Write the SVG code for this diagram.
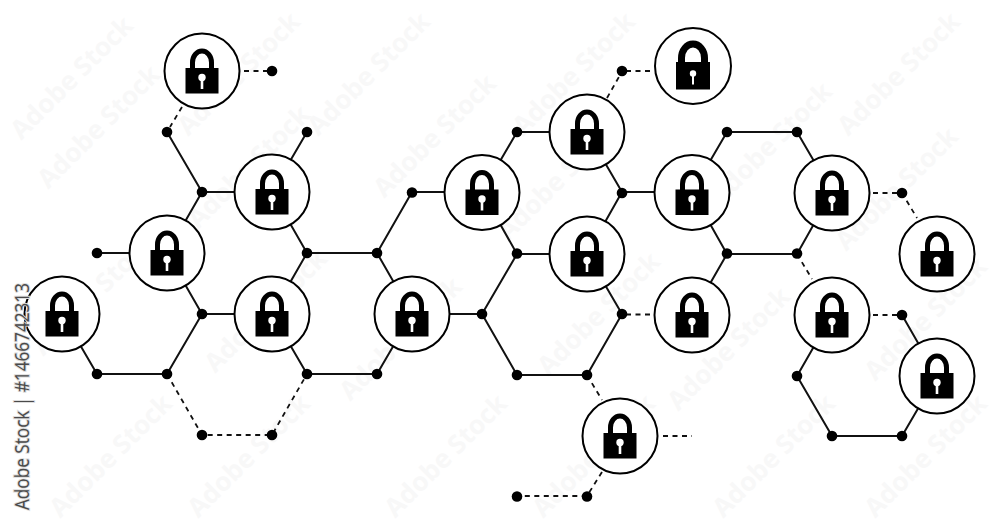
<svg xmlns="http://www.w3.org/2000/svg" xmlns:xlink="http://www.w3.org/1999/xlink" width="1000" height="526" viewBox="0 0 1000 526">
<style>
.wm{font-family:"Open Sans","Liberation Sans",sans-serif;font-size:26px;font-weight:700;fill:#f8f8f8;text-anchor:middle}
.ring{fill:#fff;stroke:#000;stroke-width:2}
.dot{fill:#000}
.solid path{fill:none;stroke:#111;stroke-width:2;stroke-linecap:round}
.dash path{fill:none;stroke:#111;stroke-width:1.8;stroke-dasharray:5 4.5}
.stock{font-family:"Open Sans","Liberation Sans",sans-serif;font-size:20px;fill:#4a4a4a;stroke:#ddd;stroke-width:2px;paint-order:stroke}
</style>
<defs>
<g id="lock">
<circle class="ring" r="37.5"/>
<path d="M-9.5 -2V-8.5A9.500 11.500 0 0 1 9.500 -8.500V-2" fill="none" stroke="#000" stroke-width="5"/>
<rect x="-16.500" y="-3" width="33" height="25.500" fill="#000"/>
<circle cx="0" cy="6.500" r="3.700" fill="#fff"/>
<rect x="-1.300" y="7" width="2.600" height="11" fill="#fff"/>
</g>
<g id="lock-big">
<circle class="ring" r="38"/>
<path d="M-11.500 -3V-8A11.500 14 0 0 1 11.500 -8V-3" fill="none" stroke="#000" stroke-width="7"/>
<rect x="-17" y="-4" width="34" height="27.500" fill="#000"/>
<circle cx="0" cy="7.500" r="3.200" fill="#fff"/>
<rect x="-1" y="8" width="2" height="10.500" fill="#fff"/>
</g>
</defs>
<rect width="1000" height="526" fill="#fff"/>
<g id="watermarks">
<text class="wm" transform="translate(78,84) rotate(-45)">Adobe Stock</text>
<text class="wm" transform="translate(105,133) rotate(-45)">Adobe Stock</text>
<text class="wm" transform="translate(255,173) rotate(-45)">Adobe Stock</text>
<text class="wm" transform="translate(375,80) rotate(-45)">Adobe Stock</text>
<text class="wm" transform="translate(441,142) rotate(-45)">Adobe Stock</text>
<text class="wm" transform="translate(565,185) rotate(-45)">Adobe Stock</text>
<text class="wm" transform="translate(580,80) rotate(-45)">Adobe Stock</text>
<text class="wm" transform="translate(777,150) rotate(-45)">Adobe Stock</text>
<text class="wm" transform="translate(903,195) rotate(-45)">Adobe Stock</text>
<text class="wm" transform="translate(905,80) rotate(-45)">Adobe Stock</text>
<text class="wm" transform="translate(245,80) rotate(-45)">Adobe Stock</text>
<text class="wm" transform="translate(100,300) rotate(-45)">Adobe Stock</text>
<text class="wm" transform="translate(272,317) rotate(-45)">Adobe Stock</text>
<text class="wm" transform="translate(407,345) rotate(-45)">Adobe Stock</text>
<text class="wm" transform="translate(605,320) rotate(-45)">Adobe Stock</text>
<text class="wm" transform="translate(735,355) rotate(-45)">Adobe Stock</text>
<text class="wm" transform="translate(932,325) rotate(-45)">Adobe Stock</text>
<text class="wm" transform="translate(117,462) rotate(-45)">Adobe Stock</text>
<text class="wm" transform="translate(255,462) rotate(-45)">Adobe Stock</text>
<text class="wm" transform="translate(452,462) rotate(-45)">Adobe Stock</text>
<text class="wm" transform="translate(600,462) rotate(-45)">Adobe Stock</text>
<text class="wm" transform="translate(780,462) rotate(-45)">Adobe Stock</text>
<text class="wm" transform="translate(932,462) rotate(-45)">Adobe Stock</text>
</g>
<g id="connectors">
<g class="solid">
<path d="M167 132L202 192L272 192"/>
<path d="M202 192L167 253"/>
<path d="M307 132L272 192L307 253L272 314"/>
<path d="M97 253H167L202 314L272 314"/>
<path d="M202 314L167 374H97L62 314"/>
<path d="M272 314L307 374H377"/>
<path d="M307 253H377L412 192H482"/>
<path d="M377 253L412 314H482"/>
<path d="M412 314L377 374"/>
<path d="M482 314L517 254L482 192L517 132H587L622 192L587 254H517"/>
<path d="M622 192H692"/>
<path d="M587 254L622 314L587 375H517L482 314"/>
<path d="M692 192L727 132H797L832 192L797 254H727L692 192"/>
<path d="M727 254L692 315"/>
<path d="M832 315L797 376L832 436H902L937 376L902 315"/>
</g>
<g class="dash">
<path d="M244 71H268"/>
<path d="M182 107L170 127"/>
<path d="M167 374L202 435H272L307 374"/>
<path d="M607 98L620 75"/>
<path d="M626 71H652"/>
<path d="M873 193H902L917 218"/>
<path d="M797 254L812 279"/>
<path d="M873 315H898"/>
<path d="M626 314.500H652"/>
<path d="M587 375L602 400"/>
<path d="M602 472L587 496H517"/>
<path d="M663 436H692"/>
</g>
</g>
<g id="lock-1"><use xlink:href="#lock" href="#lock" x="202" y="71"/></g>
<g id="lock-2"><use xlink:href="#lock" href="#lock" x="272" y="192"/></g>
<g id="lock-3"><use xlink:href="#lock" href="#lock" x="167" y="253"/></g>
<g id="lock-4"><use xlink:href="#lock" href="#lock" x="62" y="314"/></g>
<g id="lock-5"><use xlink:href="#lock" href="#lock" x="272" y="314"/></g>
<g id="lock-6"><use xlink:href="#lock" href="#lock" x="412" y="314"/></g>
<g id="lock-7"><use xlink:href="#lock" href="#lock" x="482" y="192.500"/></g>
<g id="lock-8"><use xlink:href="#lock" href="#lock" x="587" y="132"/></g>
<g id="lock-9"><use xlink:href="#lock" href="#lock" x="587" y="254"/></g>
<g id="lock-10"><use xlink:href="#lock" href="#lock" x="692" y="192.500"/></g>
<g id="lock-11"><use xlink:href="#lock" href="#lock" x="692" y="315"/></g>
<g id="lock-12"><use xlink:href="#lock" href="#lock" x="832" y="193"/></g>
<g id="lock-13"><use xlink:href="#lock" href="#lock" x="832" y="315"/></g>
<g id="lock-14"><use xlink:href="#lock" href="#lock" x="937" y="254"/></g>
<g id="lock-15"><use xlink:href="#lock" href="#lock" x="937" y="376"/></g>
<g id="lock-16"><use xlink:href="#lock" href="#lock" x="620" y="436"/></g>
<g id="lock-17"><use xlink:href="#lock-big" href="#lock-big" x="693" y="66"/></g>
<g id="dots" class="dot">
<g id="dot-1"><circle cx="272" cy="71" r="5.300"/></g>
<g id="dot-2"><circle cx="167" cy="132" r="5.300"/></g>
<g id="dot-3"><circle cx="307" cy="132" r="5.300"/></g>
<g id="dot-4"><circle cx="202" cy="192" r="5.300"/></g>
<g id="dot-5"><circle cx="97" cy="253" r="5.300"/></g>
<g id="dot-6"><circle cx="307" cy="253" r="5.300"/></g>
<g id="dot-7"><circle cx="202" cy="314" r="5.300"/></g>
<g id="dot-8"><circle cx="97" cy="374" r="5.300"/></g>
<g id="dot-9"><circle cx="167" cy="374" r="5.300"/></g>
<g id="dot-10"><circle cx="307" cy="374" r="5.300"/></g>
<g id="dot-11"><circle cx="202" cy="435" r="5.300"/></g>
<g id="dot-12"><circle cx="272" cy="435" r="5.300"/></g>
<g id="dot-13"><circle cx="377" cy="253" r="5.300"/></g>
<g id="dot-14"><circle cx="412" cy="192.500" r="5.300"/></g>
<g id="dot-15"><circle cx="377" cy="374" r="5.300"/></g>
<g id="dot-16"><circle cx="482" cy="314" r="5.300"/></g>
<g id="dot-17"><circle cx="517" cy="132" r="5.300"/></g>
<g id="dot-18"><circle cx="622" cy="71" r="5.300"/></g>
<g id="dot-19"><circle cx="622" cy="193" r="5.300"/></g>
<g id="dot-20"><circle cx="517" cy="253.500" r="5.300"/></g>
<g id="dot-21"><circle cx="622" cy="314" r="5.300"/></g>
<g id="dot-22"><circle cx="517" cy="375" r="5.300"/></g>
<g id="dot-23"><circle cx="587" cy="375" r="5.300"/></g>
<g id="dot-24"><circle cx="517" cy="496.500" r="5.300"/></g>
<g id="dot-25"><circle cx="587" cy="496.500" r="5.300"/></g>
<g id="dot-26"><circle cx="727" cy="132" r="5.300"/></g>
<g id="dot-27"><circle cx="797" cy="132" r="5.300"/></g>
<g id="dot-28"><circle cx="727" cy="253.500" r="5.300"/></g>
<g id="dot-29"><circle cx="797" cy="253.500" r="5.300"/></g>
<g id="dot-30"><circle cx="902" cy="193" r="5.300"/></g>
<g id="dot-31"><circle cx="902" cy="315" r="5.300"/></g>
<g id="dot-32"><circle cx="797" cy="376" r="5.300"/></g>
<g id="dot-33"><circle cx="832" cy="436" r="5.300"/></g>
<g id="dot-34"><circle cx="902" cy="436" r="5.300"/></g>
</g>
<text class="stock" transform="translate(29,510) rotate(-90)" textLength="227" lengthAdjust="spacingAndGlyphs">Adobe Stock | #1466742313</text>
</svg>
